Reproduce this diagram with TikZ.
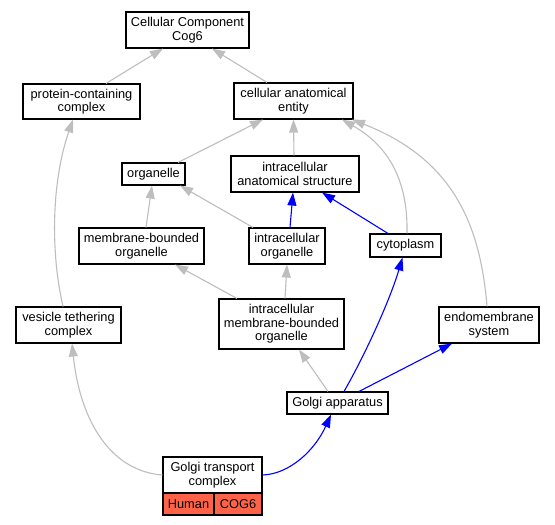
\documentclass[tikz,border=0pt]{standalone}
\usepackage{fontspec}
\setmainfont{Liberation Sans}
\usetikzlibrary{arrows.meta}
\definecolor{edgegray}{RGB}{190,190,190}
\definecolor{tomatofill}{RGB}{255,99,71}
\begin{document}
\begin{tikzpicture}[x=1pt,y=-1pt,
  box/.style={draw=black, line width=1.1pt, fill=white, inner sep=0pt, align=center,
    font=\fontsize{12.8}{13.4}\selectfont},
  redcell/.style={box, fill=tomatofill},
  gedge/.style={draw=edgegray, line width=1.1pt, -{Triangle[length=13pt,width=9pt]}},
  bedge/.style={draw=blue, line width=1.1pt, -{Triangle[length=13pt,width=9pt]}}]
\useasboundingbox (0,0) rectangle (555,525);
\fill[white] (0,0) rectangle (555,525);

% nodes
\node[box, minimum width=123pt, minimum height=36pt] (cc) at (187.5,30) {Cellular Component\\Cog6};
\node[box, minimum width=117pt, minimum height=35pt] (pcc) at (81.5,101.5) {protein-containing\\complex};
\node[box, minimum width=119pt, minimum height=36pt] (cae) at (293.5,101) {cellular anatomical\\entity};
\node[box, minimum width=63pt, minimum height=22pt] (org) at (153.5,174) {organelle};
\node[box, minimum width=128pt, minimum height=36pt] (ias) at (295,174) {intracellular\\anatomical structure};
\node[box, minimum width=125pt, minimum height=36pt] (mbo) at (141.5,246) {membrane-bounded\\organelle};
\node[box, minimum width=76pt, minimum height=36pt] (io) at (287,246) {intracellular\\organelle};
\node[box, minimum width=71pt, minimum height=23pt] (cyt) at (405.5,245.5) {cytoplasm};
\node[box, minimum width=105pt, minimum height=36pt] (vtc) at (68.5,325) {vesicle tethering\\complex};
\node[box, minimum width=125pt, minimum height=50pt] (imbo) at (281.5,324) {intracellular\\membrane-bounded\\organelle};
\node[box, minimum width=100pt, minimum height=36pt] (ems) at (489,325) {endomembrane\\system};
\node[box, minimum width=101pt, minimum height=22pt] (ga) at (337.5,403) {Golgi apparatus};
\node[box, minimum width=99pt, minimum height=36pt] (gtc) at (212.5,475) {Golgi transport\\complex};
\node[redcell, minimum width=51pt, minimum height=22pt] (human) at (188.5,504) {Human};
\node[redcell, minimum width=48pt, minimum height=22pt] (cog) at (238,504) {COG6};

% edges
\draw[gedge] ([xshift=24.5]pcc.north) -- ([xshift=-24.5]cc.south);
\draw[gedge] ([xshift=-26.5]cae.north) -- ([xshift=24.5]cc.south);
\draw[gedge] ([xshift=24.5]org.north) -- ([xshift=-30.5]cae.south);
\draw[gedge] ([xshift=-1]ias.north) -- ([xshift=0]cae.south);
\draw[gedge] ([xshift=1.5]cyt.north) .. controls (408,185) and (392,148) .. ([xshift=48.5]cae.south);
\draw[gedge] ([xshift=-2]ems.north) .. controls (480,220) and (450,158) .. ([xshift=58.5]cae.south);
\draw[gedge] ([xshift=4.5]mbo.north) -- ([xshift=-1.5]org.south);
\draw[gedge] ([xshift=-34]io.north) -- ([xshift=26.5]org.south);
\draw[bedge] ([xshift=3]io.north) -- ([xshift=-2]ias.south);
\draw[bedge] ([xshift=-17.5]cyt.north) -- ([xshift=27]ias.south);
\draw[gedge] ([xshift=-44.5]imbo.north) -- ([xshift=33.5]mbo.south);
\draw[gedge] ([xshift=3.5]imbo.north) -- ([xshift=0]io.south);
\draw[gedge] ([xshift=-9.5]ga.north) -- ([xshift=17.5]imbo.south);
\draw[bedge] ([xshift=6.5]ga.north) .. controls (365,355) and (390,300) .. ([xshift=-3]cyt.south);
\draw[bedge] ([xshift=21.5]ga.north) -- ([xshift=-37]ems.south);
\draw[gedge] ([xshift=-5.5]vtc.north) .. controls (50,250) and (52,180) .. ([xshift=-8.5]pcc.south);
\draw[gedge] (gtc.west) .. controls (110,471) and (80,420) .. ([xshift=3.5]vtc.south);
\draw[bedge] (gtc.east) .. controls (290,474) and (315,450) .. ([xshift=-6.5]ga.south);
\end{tikzpicture}
\end{document}
